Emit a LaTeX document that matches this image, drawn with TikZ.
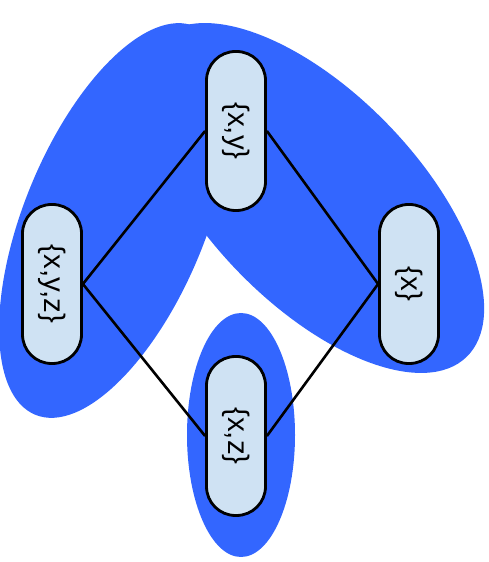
\documentclass[tikz,border=0pt]{standalone}
\usepackage{fontspec}
\usepackage{graphicx}
\setmainfont{Liberation Sans}
\definecolor{groupblue}{RGB}{51,102,255}
\definecolor{setfill}{RGB}{207,226,243}
\tikzset{
  setnode/.style={draw=black, line width=2.8pt, fill=setfill, rounded corners=29pt,
    minimum width=59pt, minimum height=159pt, inner sep=0pt,
    font=\fontsize{29.5}{30}\selectfont},
  link/.style={draw=black, line width=2.6pt},
  group/.style={fill=groupblue}
}
\newcommand{\vlabel}[1]{\rotatebox{-90}{#1}}
\begin{document}
\begin{tikzpicture}[x=1pt,y=1pt]
  \useasboundingbox (0,0) rectangle (488,562);
  % groups
  \fill[group, rotate around={67.7:(115,341.5)}] (115,341.5) ellipse (210 and 91);
  \fill[group, rotate around={-46:(313,364)}] (313,364) ellipse (221 and 105);
  \fill[group] (241,127) ellipse (54 and 122);
  % lattice nodes
  \node[setnode] (xy)  at (236,431) {\vlabel{\{x,y\}}};
  \node[setnode] (xyz) at (52,278)  {\vlabel{\{x,y,z\}}};
  \node[setnode] (x)   at (409,278) {\vlabel{\{x\}}};
  \node[setnode] (xz)  at (236,126) {\vlabel{\{x,z\}}};
  % connectors
  \draw[link] (xy.west) -- (xyz.east);
  \draw[link] (xy.east) -- (x.west);
  \draw[link] (xyz.east) -- (xz.west);
  \draw[link] (x.west) -- (xz.east);
\end{tikzpicture}
\end{document}
